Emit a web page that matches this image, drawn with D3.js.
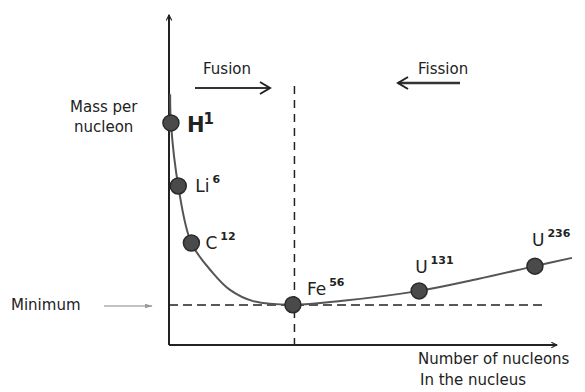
<!DOCTYPE html>
<html>
<head>
<meta charset="utf-8">
<script src="https://cdn.jsdelivr.net/npm/d3@7"></script>
<style>
  body { margin: 0; background: #fff; }
  svg { display: block; font-family: 'DejaVu Sans', sans-serif; }
  text { fill: #222; }
</style>
</head>
<body>
<div id="chart"></div>
<script>
// nuclides marked on the sketch (x, y in sketch units)
const elements = ['H', 'Li', 'C', 'Fe', 'U', 'U'];
const nucleons = ['1', '6', '12', '56', '131', '236'];
const xVals = [0.5, 2.4, 5.8, 32.1, 64.8, 94.8];
const yVals = [67.3, 48.2, 30.9, 12.2, 16.4, 23.9];

// pencil curve traced through the sketch
const curveX = [0.3, 0.5, 2.4, 5.8, 11.4, 15.8, 21.8, 32.1, 45, 64.8, 80, 94.8, 104.4];
const curveY = [76, 67.3, 48.2, 30.9, 21.8, 16.7, 13.3, 12.2, 13.4, 16.4, 20, 23.9, 26.4];

const minimum = 12.1;
const splitX = 32.5; // Fe56 line between fusion and fission

const W = 585, H = 392;
const svg = d3.select('#chart').append('svg')
  .attr('width', W)
  .attr('height', H);

const x = d3.scaleLinear().domain([0, 100]).range([169, 555]);
const y = d3.scaleLinear().domain([0, 100]).range([345, 15]);

const defs = svg.append('defs');
defs.append('marker')
  .attr('id', 'head')
  .attr('viewBox', '0 0 10 10')
  .attr('refX', 9).attr('refY', 5)
  .attr('markerWidth', 7).attr('markerHeight', 7)
  .attr('markerUnits', 'userSpaceOnUse')
  .attr('orient', 'auto')
  .append('path')
  .attr('d', 'M1,1 L9,5 L1,9')
  .attr('fill', 'none')
  .attr('stroke', '#222')
  .attr('stroke-width', 1.6);
defs.append('marker')
  .attr('id', 'bighead')
  .attr('viewBox', '0 0 14 14')
  .attr('refX', 12).attr('refY', 7)
  .attr('markerWidth', 14).attr('markerHeight', 14)
  .attr('markerUnits', 'userSpaceOnUse')
  .attr('orient', 'auto')
  .append('path')
  .attr('d', 'M2,1 L12,7 L2,13')
  .attr('fill', 'none')
  .attr('stroke', '#222')
  .attr('stroke-width', 2);
defs.append('marker')
  .attr('id', 'grayhead')
  .attr('viewBox', '0 0 10 10')
  .attr('refX', 9).attr('refY', 5)
  .attr('markerWidth', 8).attr('markerHeight', 8)
  .attr('markerUnits', 'userSpaceOnUse')
  .attr('orient', 'auto')
  .append('path')
  .attr('d', 'M0,2 L10,5 L0,8 Z')
  .attr('fill', '#999');

// axes
svg.append('line')
  .attr('x1', x(0)).attr('y1', y(0))
  .attr('x2', x(0)).attr('y2', y(100))
  .attr('stroke', '#222').attr('stroke-width', 2)
  .attr('marker-end', 'url(#head)');
svg.append('line')
  .attr('x1', x(0)).attr('y1', y(0))
  .attr('x2', x(100.5)).attr('y2', y(0))
  .attr('stroke', '#222').attr('stroke-width', 2)
  .attr('marker-end', 'url(#head)');

// dashed guides
svg.append('line')
  .attr('x1', x(0)).attr('y1', y(minimum))
  .attr('x2', x(97.5)).attr('y2', y(minimum))
  .attr('stroke', '#222').attr('stroke-width', 1.5)
  .attr('stroke-dasharray', '9,5');
svg.append('line')
  .attr('x1', x(splitX)).attr('y1', y(78.5))
  .attr('x2', x(splitX)).attr('y2', y(0))
  .attr('stroke', '#222').attr('stroke-width', 1.5)
  .attr('stroke-dasharray', '8,6');

// curve
const line = d3.line()
  .x(d => x(d[0]))
  .y(d => y(d[1]))
  .curve(d3.curveCatmullRom.alpha(0.5));
svg.append('path')
  .datum(d3.zip(curveX, curveY))
  .attr('d', line)
  .attr('fill', 'none')
  .attr('stroke', '#555')
  .attr('stroke-width', 2);

// nuclide dots
const pts = d3.range(elements.length).map(i => ({
  el: elements[i], a: nucleons[i], x: xVals[i], y: yVals[i]
}));
svg.selectAll('.dot')
  .data(pts)
  .enter()
  .append('circle')
  .attr('class', 'dot')
  .attr('cx', d => x(d.x))
  .attr('cy', d => y(d.y))
  .attr('r', 8)
  .attr('fill', '#4a4a4a')
  .attr('stroke', '#2a2a2a')
  .attr('stroke-width', 1.5);

// labels next to dots
const labelOff = [[16, 9], [17, 6], [14, 6], [14, -10], [-4, -18], [-3, -20]];
const labels = svg.selectAll('.lab')
  .data(pts)
  .enter()
  .append('text')
  .attr('class', 'lab')
  .attr('x', (d, i) => x(d.x) + labelOff[i][0])
  .attr('y', (d, i) => y(d.y) + labelOff[i][1])
  .style('font-size', (d, i) => i === 0 ? '21px' : '17px')
  .style('font-weight', (d, i) => i === 0 ? 'bold' : 'normal');
labels.append('tspan').text(d => d.el);
labels.append('tspan')
  .attr('dx', (d, i) => i === 0 ? -1 : 3)
  .attr('dy', (d, i) => i === 0 ? -8 : -9)
  .style('font-size', (d, i) => i === 0 ? '15px' : '11px')
  .style('font-weight', 'bold')
  .text(d => d.a);

// fusion / fission
svg.append('text').attr('x', 203).attr('y', 74)
  .style('font-size', '15px').text('Fusion');
svg.append('line')
  .attr('x1', 195).attr('y1', 88).attr('x2', 270).attr('y2', 88)
  .attr('stroke', '#333').attr('stroke-width', 2)
  .attr('marker-end', 'url(#bighead)');
svg.append('text').attr('x', 418).attr('y', 74)
  .style('font-size', '15px').text('Fission');
svg.append('line')
  .attr('x1', 460).attr('y1', 83).attr('x2', 398).attr('y2', 83)
  .attr('stroke', '#333').attr('stroke-width', 2.5)
  .attr('marker-end', 'url(#bighead)');

// axis titles
const yt = svg.append('text').attr('x', 72).attr('y', 112)
  .style('font-size', '15px');
yt.append('tspan').attr('x', 70).text('Mass per');
yt.append('tspan').attr('x', 74).attr('dy', 20).text('nucleon');

const xt = svg.append('text').attr('x', 418).attr('y', 364)
  .style('font-size', '15px');
xt.append('tspan').attr('x', 418).text('Number of nucleons');
xt.append('tspan').attr('x', 420).attr('dy', 21).text('In the nucleus');

// minimum note
svg.append('text').attr('x', 11).attr('y', 310)
  .style('font-size', '15px').text('Minimum');
svg.append('line')
  .attr('x1', 104).attr('y1', 306).attr('x2', 152).attr('y2', 306)
  .attr('stroke', '#888').attr('stroke-width', 1.2)
  .attr('marker-end', 'url(#grayhead)');
</script>
</body>
</html>
